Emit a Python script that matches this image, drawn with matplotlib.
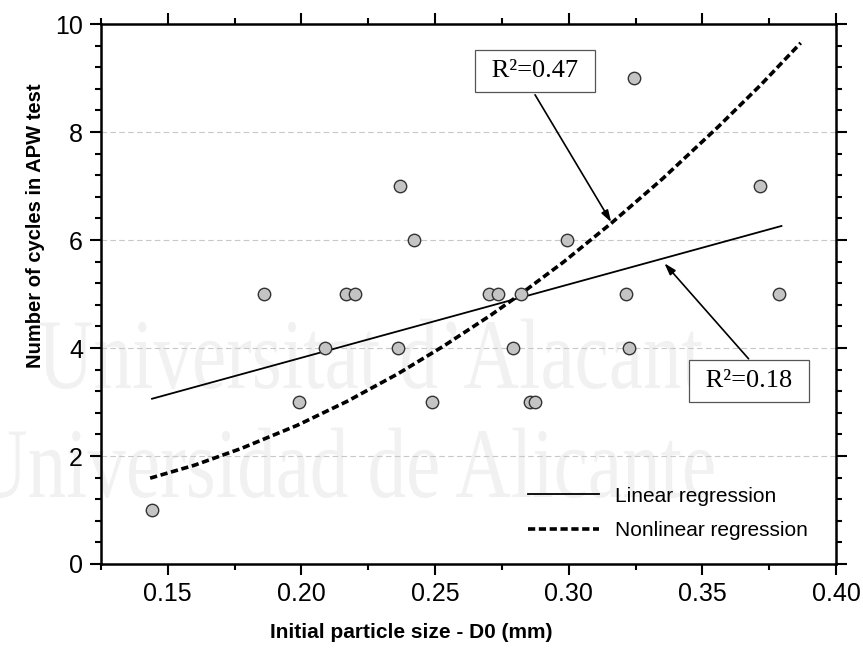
import matplotlib.pyplot as plt
from matplotlib.patches import PathPatch
from matplotlib.textpath import TextPath
from matplotlib.font_manager import FontProperties
from matplotlib.transforms import Affine2D, IdentityTransform
from matplotlib.ticker import MultipleLocator

# measured samples: initial particle size (mm) vs cycles in APW test
d0 = [0.144, 0.186, 0.199, 0.209, 0.2165, 0.220, 0.236, 0.237, 0.242, 0.249, 0.270,
      0.2735, 0.279, 0.282, 0.2855, 0.2875, 0.2995, 0.3215, 0.3225, 0.3245, 0.3715, 0.3785]
cycles = [1, 5, 3, 4, 5, 5, 4, 7, 6, 3, 5, 5, 4, 5, 3, 3, 6, 5, 4, 9, 7, 5]

# linear fit end points
lin_x = [0.1441, 0.3796]
lin_y = [3.06, 6.26]

# nonlinear fit, sampled along the curve
nl_x = [0.1434, 0.160, 0.1775, 0.1985, 0.217, 0.236, 0.253, 0.2709, 0.282, 0.298,
        0.3159, 0.335, 0.356, 0.372, 0.3868]
nl_y = [1.59, 1.83, 2.14, 2.57, 3.01, 3.52, 4.03, 4.61, 5.00, 5.59,
        6.31, 7.13, 8.10, 8.88, 9.65]

r2_nonlin = "R\u00b2=0.47"
r2_lin = "R\u00b2=0.18"

sans = ['Liberation Sans', 'DejaVu Sans']
serif = ['Liberation Serif', 'DejaVu Serif']

fig = plt.figure(figsize=(8.63, 6.53), dpi=100)
ax = fig.add_axes([0.117, 0.1363, 0.8517, 0.8269])
ax.set_facecolor('none')

# faint university watermark behind the plot
wm_font = FontProperties(family='Liberation Serif')
for txt, x0, y0 in [("Universitat d\u2019Alacant", 38, 265), ("Universidad de Alicante", -28, 156)]:
    tp = TextPath((0, 0), txt, size=100, prop=wm_font)
    tr = Affine2D().scale(0.77, 1.0).translate(x0, y0)
    fig.patches.append(PathPatch(tp, transform=tr + IdentityTransform(), facecolor='#f1f1f1',
                                 edgecolor='none', zorder=-10))

ax.scatter(d0, cycles, s=80, facecolor='#c4c4c4', edgecolor='#333333', linewidth=1.0, zorder=4)
ax.plot(lin_x, lin_y, color='black', lw=1.3, label='Linear regression', zorder=3)
ax.plot(nl_x, nl_y, color='black', lw=2.6, ls=(0, (2.0, 1.0)), label='Nonlinear regression', zorder=3)

for y in [2, 4, 6, 8]:
    ax.axhline(y, color='#c8c8c8', lw=0.8, ls=(0, (5, 3)), zorder=1)

ax.set_xlim(0.125, 0.40)
ax.set_ylim(0, 10)
ax.set_xticks([0.15, 0.20, 0.25, 0.30, 0.35, 0.40])
ax.set_xticklabels(['0.15', '0.20', '0.25', '0.30', '0.35', '0.40'])
ax.set_yticks([0, 2, 4, 6, 8, 10])
ax.xaxis.set_minor_locator(MultipleLocator(0.025))
ax.yaxis.set_minor_locator(MultipleLocator(0.4))
ax.tick_params(which='both', direction='out', top=True, right=True, width=1.5,
               labelsize=18, pad=5)
ax.tick_params(which='major', length=8)
ax.tick_params(which='minor', length=4.5)
for lab in ax.get_xticklabels() + ax.get_yticklabels():
    lab.set_family(sans)
for sp in ax.spines.values():
    sp.set_linewidth(1.8)

ax.set_xlabel('Initial particle size - D0 (mm)', fontsize=15, fontweight='bold', family=sans)
ax.set_ylabel('Number of cycles in APW test', fontsize=14.5, fontweight='bold', family=sans)
ax.xaxis.set_label_coords(0.422, -0.11)
ax.yaxis.set_label_coords(-0.076, 0.626)

arrow = dict(arrowstyle='-|>,head_length=0.7,head_width=0.22', color='black', lw=1.2,
             shrinkA=0, shrinkB=0)
ax.annotate('', xy=(0.3159, 6.33), xytext=(0.2874, 8.69), arrowprops=arrow, zorder=5)
ax.annotate('', xy=(0.3358, 5.57), xytext=(0.3673, 3.80), arrowprops=arrow, zorder=5)

box = dict(boxstyle='square,pad=0.38', facecolor='white', edgecolor='#555555', lw=0.9)
ax.text(0.2874, 9.13, ' ' + r2_nonlin + ' ', fontsize=19, family=serif, ha='center', va='center',
        bbox=box, zorder=6)
ax.text(0.3676, 3.39, ' ' + r2_lin + ' ', fontsize=19, family=serif, ha='center', va='center',
        bbox=box, zorder=6)

leg = ax.legend(loc='lower right', bbox_to_anchor=(0.962, 0.044), frameon=False,
                prop={'family': sans, 'size': 15}, handlelength=3.4, handletextpad=0.8,
                labelspacing=0.75, borderpad=0, borderaxespad=0)

fig.savefig('out.png', dpi=100)
